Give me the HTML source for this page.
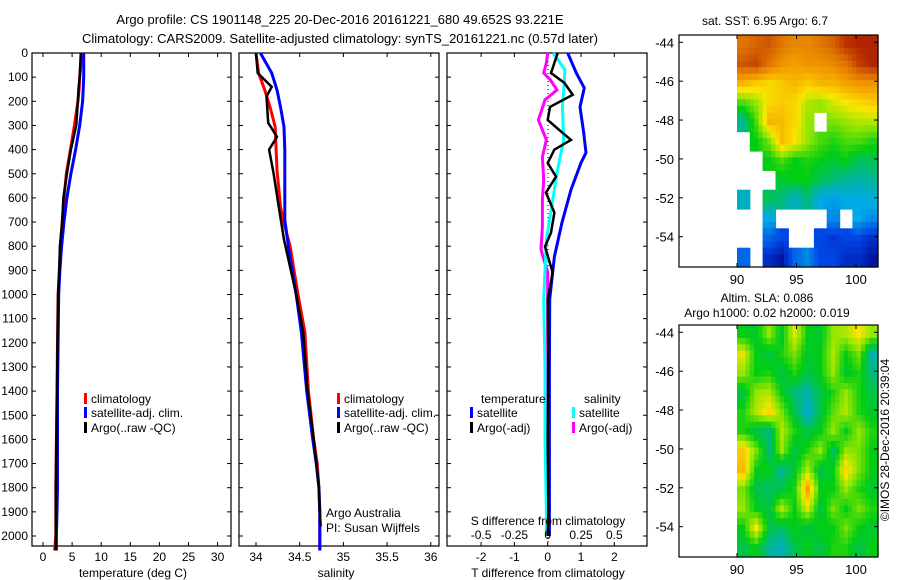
<!DOCTYPE html>
<html><head><meta charset="utf-8">
<style>
body{margin:0;background:#fff;}
svg{display:block;font-family:"Liberation Sans",sans-serif;font-size:12px;}
</style></head>
<body>
<svg id="fig" width="900" height="580" viewBox="0 0 900 580">
<text x="340" y="24" text-anchor="middle" font-size="13">Argo profile: CS 1901148_225 20-Dec-2016 20161221_680 49.652S 93.221E</text>
<text x="340" y="43" text-anchor="middle" font-size="13">Climatology: CARS2009. Satellite-adjusted climatology: synTS_20161221.nc (0.57d later)</text>
<g id="g"></g>
</svg>
<script>
// ---- data ----
const depthTicks=[0,100,200,300,400,500,600,700,800,900,1000,1100,1200,1300,1400,1500,1600,1700,1800,1900,2000];
const tTicks=[0,5,10,15,20,25,30];
const sTicks=[34,34.5,35,35.5,36];
const sTickLabels=["34","34.5","35","35.5","36"];
const dTTicks=[-2,-1,0,1,2];
const dSTicks=[-0.5,-0.25,0,0.25,0.5];
const dSTickLabels=["-0.5","-0.25","0","0.25","0.5"];
const profDepth=[0,50,100,150,200,300,400,500,600,700,800,900,1000,1200,1400,1600,1800,1900,2000,2060];
const tempClim=[6.6,6.5,6.3,6.2,6.0,5.4,4.7,4.0,3.6,3.3,3.0,2.8,2.6,2.5,2.4,2.3,2.2,2.2,2.2,2.0];
const tempSat=[7.0,7.0,7.0,6.9,6.8,6.3,5.6,4.8,4.1,3.6,3.2,2.9,2.7,2.6,2.5,2.5,2.5,2.4,2.3,2.3];
const tempArgo=[6.5,6.4,6.3,6.1,6.0,5.7,4.8,4.1,3.5,3.3,2.9,2.8,2.6,2.5,2.4,2.3,2.2,2.2,2.2,2.2];
const salDepth=[0,83,153,223,306,400,485,636,690,800,1000,1157,1400,1600,1700,1800,1900,2000,2060];
const salClim=[34.0,34.03,34.1,34.16,34.22,34.23,34.24,34.28,34.31,34.39,34.48,34.56,34.6,34.66,34.7,34.72,34.73,34.73,34.73];
const salSat=[34.05,34.18,34.24,34.28,34.32,34.33,34.33,34.33,34.33,34.37,34.46,34.52,34.58,34.65,34.69,34.72,34.73,34.73,34.73];
const salArgoDepth=[0,83,140,180,289,347,400,496,636,773,1000,1157,1400,1600,1800,1900,1960];
const salArgo=[34.0,34.02,34.18,34.12,34.14,34.24,34.15,34.2,34.26,34.32,34.46,34.54,34.59,34.66,34.72,34.73,34.74];
const dTDepth=[0,83,145,223,330,413,455,566,702,843,1020,1300,1600,1900,2000];
const dTSat=[0.6,0.86,1.1,0.97,1.08,1.15,1.0,0.7,0.43,0.2,0.06,0.05,0.05,0.05,0.05];
const dTArgoDepth=[0,83,124,173,223,277,318,360,400,455,512,578,661,744,802,909,1020,1300,1600,1900,2000];
const dTArgo=[0.3,0.1,0.5,0.75,0.07,0.0,0.34,0.7,0.2,0.0,0.25,-0.05,0.2,0.1,-0.08,0.15,0.0,0.02,0.0,0.02,0.0];
const dSDepth=[0,70,153,223,360,496,636,773,1020,1300,1600,1900,2000];
const dSSat=[0.04,0.13,0.12,0.11,0.12,0.07,0.03,-0.01,-0.03,-0.02,-0.02,-0.01,-0.01];
const dSArgoDepth=[0,41,83,112,153,194,277,360,430,525,607,719,814,909,1020,1300,1600,1900,2000];
const dSArgo=[0,-0.01,-0.03,0.02,0.07,-0.02,-0.07,-0.01,-0.04,-0.03,-0.04,-0.04,-0.05,0,0,0,0,0,0];
const latTicks=[-44,-46,-48,-50,-52,-54];
const lonTicks=[90,95,100];
const sstGrid=[
[0.85,0.88,0.9,0.85,0.82,0.82,0.85,0.88,0.95,0.97,0.97],
[0.9,0.92,0.85,0.8,0.78,0.8,0.8,0.82,0.85,0.93,0.97],
[0.75,0.72,0.7,0.72,0.75,0.72,0.75,0.75,0.78,0.8,0.8],
[0.55,0.6,0.7,0.72,0.7,0.62,0.6,0.65,0.68,0.7,0.72],
[0.4,0.55,0.75,0.74,0.7,0.6,null,0.58,0.6,0.62,0.62],
[null,0.5,0.58,0.74,0.68,0.6,0.55,0.52,0.55,0.55,0.52],
[null,null,0.5,0.55,0.5,0.52,0.5,0.48,0.5,0.45,0.45],
[null,null,null,0.48,0.5,0.5,0.45,0.42,0.4,0.38,0.4],
[0.35,null,0.45,0.42,0.35,0.42,0.3,0.28,0.3,0.3,0.32],
[null,null,0.3,null,null,null,null,0.25,null,0.3,0.25],
[null,null,0.2,0.15,null,null,0.15,0.12,0.15,0.15,0.1],
[0.2,null,0.1,0.05,0.2,0.25,0.15,0.15,0.1,0.1,0.05]];
const slaGrid=[
[0.5,0.48,0.6,0.48,0.66,0.5,0.48,0.6,0.62,0.68,0.6],
[0.66,0.5,0.46,0.52,0.58,0.48,0.5,0.62,0.5,0.58,0.38],
[0.6,0.5,0.52,0.46,0.52,0.46,0.5,0.6,0.48,0.52,0.42],
[0.46,0.6,0.62,0.5,0.42,0.38,0.46,0.52,0.6,0.52,0.46],
[0.52,0.62,0.7,0.58,0.46,0.34,0.46,0.56,0.62,0.52,0.48],
[0.52,0.46,0.42,0.62,0.52,0.46,0.5,0.6,0.5,0.6,0.52],
[0.72,0.58,0.42,0.6,0.46,0.52,0.6,0.44,0.6,0.58,0.5],
[0.74,0.5,0.5,0.4,0.48,0.62,0.46,0.5,0.7,0.58,0.5],
[0.58,0.46,0.44,0.46,0.52,0.78,0.5,0.5,0.6,0.52,0.48],
[0.6,0.5,0.46,0.62,0.5,0.65,0.46,0.58,0.5,0.58,0.52],
[0.5,0.68,0.46,0.44,0.5,0.46,0.5,0.5,0.58,0.5,0.48],
[0.46,0.5,0.4,0.36,0.46,0.5,0.46,0.52,0.52,0.46,0.5]];

// ---- helpers ----
const NS="http://www.w3.org/2000/svg";
const G=document.getElementById('g');
function mk(tag,attrs,txt){const e=document.createElementNS(NS,tag);for(const k in attrs)e.setAttribute(k,attrs[k]);if(txt!==undefined)e.textContent=txt;G.appendChild(e);return e;}
const yD=d=>53+d*0.2415;
const PB=546;
function panel(x0,x1,name){
  const r=mk('rect',{x:x0,y:53,width:x1-x0,height:PB-53,fill:'none',stroke:'#000','stroke-width':1.2});
  
  
  depthTicks.forEach(d=>{
    const y=yD(d);
    const a=mk('line',{x1:x0,x2:x0+4,y1:y,y2:y,stroke:'#000'});
    
    
    const b=mk('line',{x1:x1-4,x2:x1,y1:y,y2:y,stroke:'#000'});
    
    
  });
}
function xticks(x0,x1,vals,fx){vals.forEach(v=>{const x=fx(v);
  const a=mk('line',{x1:x,x2:x,y1:PB-4,y2:PB,stroke:'#000'});
  
  
  const b=mk('line',{x1:x,x2:x,y1:53,y2:57,stroke:'#000'});
  
  });}
function line(xs,ds,fx,color,name,w){
  const pts=xs.map((v,i)=>fx(v).toFixed(1)+','+yD(ds[i]).toFixed(1)).join(' ');
  const p=mk('polyline',{points:pts,fill:'none',stroke:color,'stroke-width':w||3,'stroke-linejoin':'miter'});
  
  
}
function txt(x,y,s,name,anchor,extra){const t=mk('text',Object.assign({x:x,y:y,'text-anchor':anchor||'start'},extra||{}),s);
  
  return t;}
function leg(x,y,color,label){
  const r=mk('rect',{x:x,y:y-10,width:3,height:11,fill:color});
  
  
  txt(x+7,y,label,'legend-entry');
}

depthTicks.forEach(d=>txt(28,yD(d)+4,String(d),'y-tick-label','end'));

// Panel 1 temperature
const fT=v=>43+v*5.82;
panel(32,231,'temperature-panel');
xticks(32,231,tTicks,fT);
tTicks.forEach(v=>txt(fT(v),561,String(v),'x-tick-label','middle'));
txt(133,577,'temperature (deg C)','x-axis-title','middle');
line(tempClim,profDepth,fT,'#f00','temp-climatology-line');
line(tempSat,profDepth,fT,'#00f','temp-satellite-line');
line(tempArgo,profDepth,fT,'#000','temp-argo-line',2.5);
leg(84,403,'#f00','climatology');leg(84,417,'#00f','satellite-adj. clim.');leg(84,432,'#000','Argo(..raw -QC)');

// Panel 2 salinity
const fS=v=>256+(v-34)*87.4;
panel(239,439,'salinity-panel');
xticks(239,439,sTicks,fS);
sTicks.forEach((v,i)=>txt(fS(v),561,sTickLabels[i],'x-tick-label','middle'));
txt(336,577,'salinity','x-axis-title','middle');
line(salClim,salDepth,fS,'#f00','sal-climatology-line');
line(salSat,salDepth,fS,'#00f','sal-satellite-line');
line(salArgo,salArgoDepth,fS,'#000','sal-argo-line',2.5);
leg(337,403,'#f00','climatology');leg(337,417,'#00f','satellite-adj. clim.');leg(337,432,'#000','Argo(..raw -QC)');
txt(326,517,'Argo Australia','credit-text');txt(326,532,'PI: Susan Wijffels','pi-text');

// Panel 3 differences
const fdT=v=>547.7+v*33.3;
const fdS=v=>547.7+v*133.2;
panel(447,647,'difference-panel');
xticks(447,647,dTTicks,fdT);
const z=mk('line',{x1:548,x2:548,y1:53,y2:PB,stroke:'#000','stroke-dasharray':'1,3'});


line(dSArgo,dSArgoDepth,fdS,'#f0f','sal-argo-diff-line');
line(dSSat,dSDepth,fdS,'#0ff','sal-satellite-diff-line');
line(dTSat,dTDepth,fdT,'#00f','temp-satellite-diff-line');
line(dTArgo,dTArgoDepth,fdT,'#000','temp-argo-diff-line',2.5);
txt(481,403,'temperature','legend-title');
txt(584,403,'salinity','legend-title');
leg(470,417,'#00f','satellite');leg(470,432,'#000','Argo(-adj)');
leg(572,417,'#0ff','satellite');leg(572,432,'#f0f','Argo(-adj)');
txt(548,525,'S difference from climatology','s-axis-title','middle');
dSTicks.forEach((v,i)=>txt(fdS(v),539,dSTickLabels[i],'s-tick-label','middle'));
dTTicks.forEach(v=>txt(fdT(v),561,String(v),'x-tick-label','middle'));
txt(548,577,'T difference from climatology','x-axis-title','middle');

// Maps
const cmStops=[[0,[0,0,130]],[0.15,[0,70,230]],[0.3,[0,170,230]],[0.4,[0,180,150]],[0.5,[0,205,20]],[0.6,[150,230,0]],[0.68,[250,230,0]],[0.78,[245,160,0]],[0.88,[215,100,0]],[1,[165,15,0]]];
function cmap(v){
  v=Math.max(0,Math.min(1,v));
  for(let i=1;i<cmStops.length;i++){if(v<=cmStops[i][0]){const a=cmStops[i-1],b=cmStops[i];const t=(v-a[0])/(b[0]-a[0]);
    const c=a[1].map((x,k)=>Math.round(x+(b[1][k]-x)*t));return `rgb(${c[0]},${c[1]},${c[2]})`;}}
  return 'rgb(165,15,0)';
}
function sample(grid,fi,fj){
  const R=grid.length,C=grid[0].length;
  fi=Math.max(0,Math.min(R-1,fi));fj=Math.max(0,Math.min(C-1,fj));
  const ni=Math.round(fi),nj=Math.round(fj);
  if(grid[ni][nj]===null)return null;
  const i0=Math.floor(fi),j0=Math.floor(fj),i1=Math.min(R-1,i0+1),j1=Math.min(C-1,j0+1);
  const ti=fi-i0,tj=fj-j0;
  const g=(i,j)=>grid[i][j]===null?grid[ni][nj]:grid[i][j];
  return (g(i0,j0)*(1-tj)+g(i0,j1)*tj)*(1-ti)+(g(i1,j0)*(1-tj)+g(i1,j1)*tj)*ti;
}
const fLon=v=>737+(v-90)*11.9;
function map(y0,grid,name){
  const x0=679,x1=878,h=232;
  const fLat=v=>y0+7.3+(-44-v)*19.44;
  const cols=grid[0].length,rows=grid.length,sub=3;
  const cw=(x1-737)/(cols*sub),ch=h/(rows*sub);
  for(let i=0;i<rows*sub;i++)for(let j=0;j<cols*sub;j++){
    const v=sample(grid,(i+0.5)/sub-0.5,(j+0.5)/sub-0.5);
    if(v===null)continue;
    const c=mk('rect',{x:(737+j*cw).toFixed(1),y:(y0+i*ch).toFixed(1),width:(cw+0.6).toFixed(1),height:(ch+0.6).toFixed(1),fill:cmap(v)});
    
    
  }
  const r=mk('rect',{x:x0,y:y0,width:x1-x0,height:h,fill:'none',stroke:'#000','stroke-width':1.2});
  
  
  latTicks.forEach(v=>{const y=fLat(v);
    const a=mk('line',{x1:x0,x2:x0+4,y1:y,y2:y,stroke:'#000'});
    
    
    const b=mk('line',{x1:x1-4,x2:x1,y1:y,y2:y,stroke:'#000'});
    
    
    txt(674,y+5,String(v),'lat-label','end',{'font-size':13});});
  lonTicks.forEach(v=>{const x=fLon(v);
    const a=mk('line',{x1:x,x2:x,y1:y0+h-4,y2:y0+h,stroke:'#000'});
    
    
    const b=mk('line',{x1:x,x2:x,y1:y0,y2:y0+4,stroke:'#000'});
    
    
    txt(x,y0+h+17,String(v),'lon-label','middle',{'font-size':13});});
}
map(35,sstGrid,'sst-map');
txt(765,25,'sat. SST: 6.95 Argo: 6.7','sst-map-title','middle');
map(325,slaGrid,'sla-map');
txt(767,302,'Altim. SLA: 0.086','sla-map-title','middle');
txt(767,317,'Argo h1000: 0.02 h2000: 0.019','sla-map-subtitle','middle');
txt(0,0,'©IMOS 28-Dec-2016 20:39:04','copyright-text','middle',{transform:'translate(889,440) rotate(-90)'});
</script>
</body></html>
